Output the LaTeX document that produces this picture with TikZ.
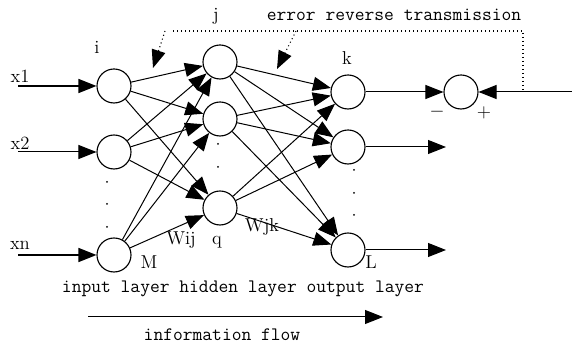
\documentclass[tikz,border=0pt]{standalone}
\usepackage{fontspec}
\usetikzlibrary{arrows.meta}
\begin{document}
\begin{tikzpicture}[x=0.75pt,y=-0.75pt,
  neuron/.style={circle,draw,line width=0.85pt,minimum size=25.5pt,inner sep=0pt},
  headtip/.style={-{Triangle[length=13.5pt,width=10.5pt]}},
  link/.style={headtip,line width=0.75pt},
  feed/.style={headtip,line width=1.1pt},
  lbl/.style={font=\fontsize{14pt}{16pt}\selectfont,inner sep=0pt},
  mono/.style={font=\ttfamily\fontsize{14.25pt}{16pt}\selectfont,inner sep=0pt},
  dotline/.style={line width=0.8pt,dash pattern=on 0.8pt off 2.2pt},
  dotmark/.style={fill,circle,inner sep=0pt,minimum size=1.5pt}
]
\useasboundingbox (0,0) rectangle (572,348);

% input layer
\node[neuron] (in1) at (114,86) {};
\node[neuron] (in2) at (114,152) {};
\node[neuron] (inN) at (114,255) {};
% hidden layer
\node[neuron] (h1) at (220,62) {};
\node[neuron] (h2) at (220,119) {};
\node[neuron] (hq) at (220,208) {};
% output layer
\node[neuron] (o1) at (348,92) {};
\node[neuron] (o2) at (348,147) {};
\node[neuron] (oL) at (348,250) {};
% comparator
\node[neuron] (cmp) at (461,92) {};

% external inputs
\coordinate (s1) at (18,86);
\coordinate (s2) at (18,152);
\coordinate (sN) at (18,255);
\draw[feed] (s1) -- (in1);
\draw[link] (s2) -- (in2);
\draw[feed] (sN) -- (inN);

% input -> hidden weights
\foreach \a in {in1,in2,inN}
  \foreach \b in {h1,h2,hq}
    \draw[link] (\a) -- (\b);

% hidden -> output weights
\foreach \a in {h1,h2,hq}
  \foreach \b in {o1,o2,oL}
    \draw[link] (\a) -- (\b);

% outputs
\coordinate (y2) at (446,147);
\coordinate (yL) at (446,250);
\draw[link] (o1) -- (cmp);
\draw[link] (o2) -- (y2);
\draw[link] (oL) -- (yL);

% desired output entering the comparator
\coordinate (tgt) at (572,92);
\coordinate (tap) at (523,92);
\draw[link] (tgt) -- (cmp);

% error back-propagation path
\coordinate (bl) at (173,31);
\coordinate (br) at (523,31);
\draw[dotline] (bl) -- (br) -- (tap);
\coordinate (e1s) at (165,31);
\coordinate (e1t) at (153,68);
\coordinate (e2s) at (296,31);
\coordinate (e2t) at (277,69);
\draw[dotline,headtip] (e1s) -- (e1t);
\draw[dotline,headtip] (e2s) -- (e2t);

% ellipsis dots in each layer
\foreach \y in {182,204,227} \node[dotmark] (di\y) at (107,\y) {};
\foreach \y in {144,167} \node[dotmark] (dh\y) at (218,\y) {};
\foreach \y in {170,193,215} \node[dotmark] (do\y) at (354,\y) {};

% labels
\node[lbl] (lx1) at (20,76) {x1};
\node[lbl] (lx2) at (20,143) {x2};
\node[lbl] (lxn) at (20,245) {xn};
\node[lbl] (li) at (97,47) {i};
\node[lbl] (lj) at (216,16) {j};
\node[lbl] (lk) at (347,58) {k};
\node[lbl] (lq) at (217,242) {q};
\node[lbl] (lwij) at (181,240) {Wij};
\node[lbl] (lwjk) at (262,227) {Wjk};
\node[lbl] (lM) at (149,262) {M};
\node[lbl] (lL) at (371,262) {L};
\node[lbl] (lminus) at (437,112) {$-$};
\node[lbl] (lplus) at (484,113) {+};

\node[mono] (err) at (394,15) {error reverse transmission};
\node[mono] (layers) at (243,289) {input layer hidden layer output layer};

% direction of information flow
\coordinate (f0) at (88,317);
\coordinate (f1) at (383,317);
\draw[link] (f0) -- (f1);
\node[mono] (flow) at (222,335) {information flow};
\end{tikzpicture}
\end{document}
